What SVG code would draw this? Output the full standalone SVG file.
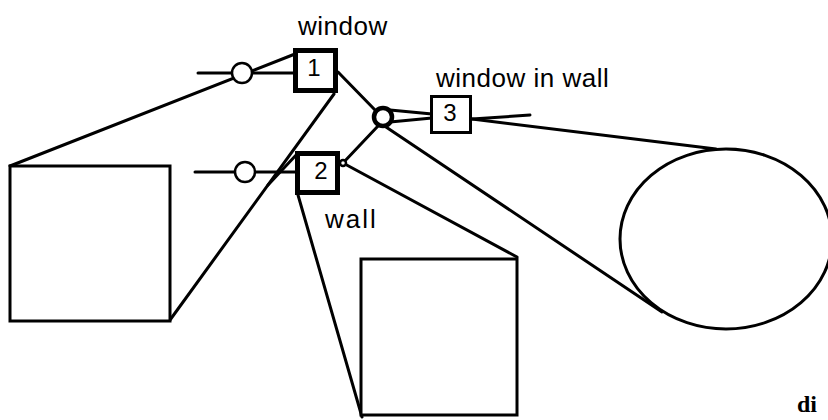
<svg xmlns="http://www.w3.org/2000/svg" width="828" height="420" viewBox="0 0 828 420">
  <style>
    .ln { stroke: #000; stroke-width: 3; fill: none; stroke-linecap: round; }
    .big { fill: #fff; stroke: #000; stroke-width: 3; }
    .tok { fill: #fff; stroke: #000; stroke-width: 5; }
    .tok3 { fill: #fff; stroke: #000; stroke-width: 3; }
    .knot { fill: #fff; stroke: #000; stroke-width: 2.5; }
    .lbl { font-family: "Liberation Sans", Arial, sans-serif; font-size: 26px; fill: #000; letter-spacing: 0.5px; }
    .num { font-family: "Liberation Sans", Arial, sans-serif; font-size: 24px; fill: #000; text-anchor: middle; }
    .ser { font-family: "Liberation Serif", "Times New Roman", serif; font-size: 24px; font-weight: bold; fill: #000; }
  </style>

  <!-- connectors -->
  <g id="connectors">
    <!-- left box to window token -->
    <line class="ln" x1="10" y1="166" x2="295" y2="54"/>
    <line class="ln" x1="170" y1="320" x2="334" y2="94"/>
    <line class="ln" x1="268" y1="185" x2="298" y2="153"/>
    <!-- free ends -->
    <line class="ln" x1="198" y1="73" x2="296" y2="73"/>
    <line class="ln" x1="195" y1="172" x2="298" y2="172"/>
    <!-- window / wall tokens into the join -->
    <line class="ln" x1="338" y1="72" x2="376" y2="111"/>
    <line class="ln" x1="343" y1="163" x2="378" y2="126"/>
    <!-- join to window-in-wall token -->
    <line class="ln" x1="390" y1="110" x2="432" y2="114"/>
    <line class="ln" x1="390" y1="122" x2="432" y2="118"/>
    <line class="ln" x1="472" y1="119" x2="530" y2="115"/>
    <!-- join and token 3 to the ellipse -->
    <line class="ln" x1="383" y1="125" x2="662" y2="312"/>
    <line class="ln" x1="472" y1="119" x2="716" y2="149"/>
    <!-- wall token to the lower box -->
    <line class="ln" x1="343" y1="163" x2="517" y2="257"/>
    <line class="ln" x1="298" y1="195" x2="362" y2="417"/>
  </g>

  <g id="box-left"><rect class="big" x="10" y="166" width="160" height="155"/></g>
  <g id="box-bottom"><rect class="big" x="361" y="259" width="156" height="156"/></g>
  <g id="ellipse-right"><ellipse class="big" cx="726" cy="239" rx="106" ry="90"/></g>

  <g id="knot-1"><circle class="knot" cx="242" cy="73" r="10"/></g>
  <g id="knot-2"><circle class="knot" cx="245" cy="172" r="10"/></g>
  <g id="knot-3"><circle class="knot" cx="383" cy="117" r="9" style="stroke-width:4.5"/></g>
  <g id="knot-2r"><circle class="knot" cx="343" cy="163" r="3"/></g>

  <g id="token-1">
    <rect class="tok" x="295.5" y="50.5" width="40" height="40"/>
    <text class="num" x="314" y="76">1</text>
  </g>
  <g id="token-2">
    <rect class="tok" x="297.5" y="153.5" width="40" height="39"/>
    <text class="num" x="321" y="179">2</text>
  </g>
  <g id="token-3">
    <rect class="tok3" x="431.5" y="96.5" width="39" height="36"/>
    <text class="num" x="450" y="121">3</text>
  </g>

  <g id="labels">
    <text class="lbl" x="298" y="35">window</text>
    <text class="lbl" x="436" y="87">window in wall</text>
    <text class="lbl" x="325" y="228" style="letter-spacing:2px">wall</text>
    <text class="ser" x="797" y="412">di</text>
  </g>
</svg>
